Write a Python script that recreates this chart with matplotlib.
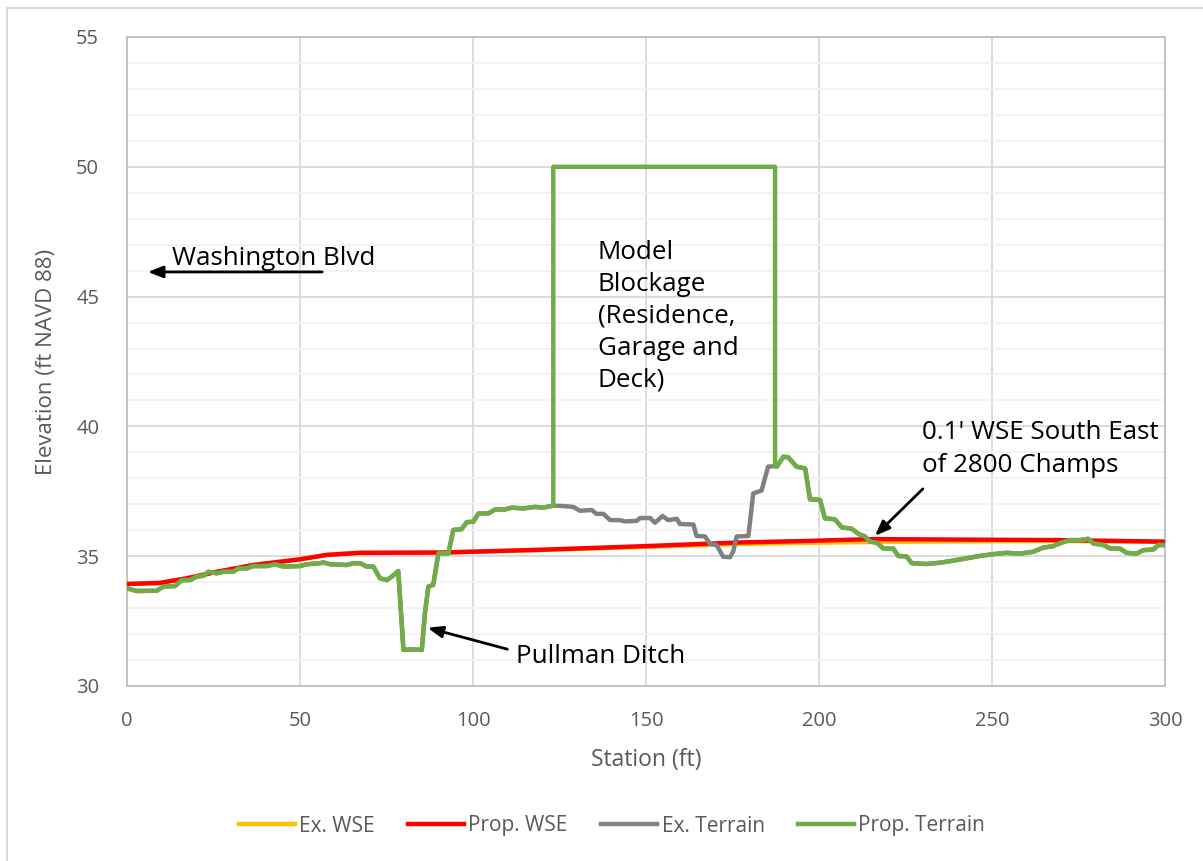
import matplotlib.pyplot as plt
from matplotlib.patches import Rectangle

plt.rcParams['font.family'] = ['Open Sans', 'DejaVu Sans']

# terrain shared by both profiles, west of the blockage
left_sta = [0, 2.8, 8.6, 10.5, 13.9, 15.8, 18.2, 20.1, 22.1, 23.5, 25.9, 27.8, 30.7, 32.2,
            34.6, 36.5, 40.4, 42.8, 45.2, 50, 51.9, 55.8, 56.7, 58.7, 63.5, 65.4, 67.3,
            69.3, 71.2, 73.1, 75.1, 76.5, 78.4, 79.9, 82.7, 85.2, 86.1, 87.1, 88.5, 90.0,
            92.9, 94.3, 96.7, 98.2, 100.1, 101.6, 104.5, 106.4, 109.2, 111.2, 114.5,
            117.9, 120.3, 123.2]
left_elev = [33.76, 33.66, 33.67, 33.83, 33.85, 34.08, 34.08, 34.21, 34.25, 34.40, 34.34,
             34.40, 34.40, 34.53, 34.53, 34.62, 34.62, 34.69, 34.60, 34.62, 34.69, 34.73,
             34.76, 34.69, 34.66, 34.73, 34.73, 34.60, 34.60, 34.15, 34.08, 34.21, 34.43,
             31.39, 31.41, 31.39, 32.80, 33.83, 33.89, 35.11, 35.11, 36.01, 36.04, 36.31,
             36.33, 36.65, 36.65, 36.80, 36.80, 36.87, 36.84, 36.90, 36.87, 36.95]

# existing terrain under the residence / garage / deck
mid_sta = [126.1, 129.0, 130.9, 134.3, 135.7, 137.7, 139.6, 142.5, 143.9, 147.3, 148.3,
           151.2, 152.6, 154.8, 156.4, 158.9, 159.8, 163.7, 164.6, 167.1, 168.5, 170.4,
           172.3, 174.3, 175.2, 176.2, 179.6, 181.0, 183.4, 185.3, 187.3]
mid_elev = [36.93, 36.90, 36.75, 36.78, 36.63, 36.63, 36.39, 36.39, 36.34, 36.36, 36.47,
            36.47, 36.29, 36.55, 36.39, 36.44, 36.24, 36.22, 35.78, 35.76, 35.47, 35.43,
            34.98, 34.96, 35.18, 35.76, 35.78, 37.42, 37.53, 38.45, 38.47]

# shared terrain east of the blockage
right_sta = [187.8, 189.7, 191.1, 193.5, 196.0, 197.4, 200.3, 201.7, 204.6, 206.6, 209.4,
             211.4, 213.3, 214.7, 216.7, 218.6, 221.5, 222.9, 225.3, 226.8, 231.1, 235.0,
             238.8, 242.7, 246.5, 250.4, 254.2, 258.1, 261.9, 264.8, 267.7, 270.1, 272.5,
             275.4, 277.8, 279.3, 282.2, 284.1, 287.0, 288.9, 291.8, 293.7, 296.6, 298.1, 300]
right_elev = [38.45, 38.83, 38.81, 38.45, 38.38, 37.19, 37.17, 36.46, 36.42, 36.11, 36.06,
              35.86, 35.76, 35.56, 35.52, 35.30, 35.29, 35.01, 34.99, 34.73, 34.70, 34.75,
              34.83, 34.92, 35.01, 35.08, 35.13, 35.10, 35.17, 35.33, 35.39, 35.52, 35.62,
              35.62, 35.67, 35.49, 35.43, 35.30, 35.29, 35.13, 35.10, 35.23, 35.26, 35.43, 35.43]

blockage_sta = [123.2, 187.3]
blockage_elev = 50.0

ex_terrain_sta = left_sta + mid_sta + right_sta
ex_terrain_elev = left_elev + mid_elev + right_elev
prop_terrain_sta = left_sta + [blockage_sta[0], blockage_sta[1], blockage_sta[1]] + right_sta
prop_terrain_elev = left_elev + [blockage_elev, blockage_elev, 38.47] + right_elev

wse_sta = [0, 9.5, 17.3, 26, 36.5, 50, 57.7, 67.3, 90.5, 102, 120, 150.2, 177.2, 194.5,
           215.7, 240, 270, 300]
prop_wse = [33.93, 33.97, 34.15, 34.40, 34.66, 34.88, 35.05, 35.13, 35.14, 35.18, 35.25,
            35.39, 35.53, 35.58, 35.66, 35.64, 35.62, 35.56]
ex_wse = [33.93, 33.97, 34.15, 34.40, 34.66, 34.88, 35.05, 35.13, 35.14, 35.18, 35.24,
          35.36, 35.47, 35.51, 35.55, 35.57, 35.59, 35.55]

fig = plt.figure(figsize=(12.03, 8.61), dpi=100)
fig.add_artist(Rectangle((7 / 1203, -0.1), 1.2, 1 - 8 / 861 + 0.1, transform=fig.transFigure,
                         fill=False, edgecolor='#D9D9D9', lw=1.5))
ax = fig.add_axes([127 / 1203, 1 - 686 / 861, (1165 - 127) / 1203, (686 - 37) / 861])

lw = 3.2
ax.plot(wse_sta, ex_wse, color='#FFC000', lw=lw, label='Ex. WSE', zorder=3)
ax.plot(wse_sta, prop_wse, color='#FF0000', lw=lw, label='Prop. WSE', zorder=4)
ax.plot(ex_terrain_sta, ex_terrain_elev, color='#808080', lw=lw, label='Ex. Terrain', zorder=5)
ax.plot(prop_terrain_sta, prop_terrain_elev, color='#70AD47', lw=lw, label='Prop. Terrain', zorder=6)

ax.set_xlim(0, 300)
ax.set_ylim(30, 55)
ax.set_xticks(range(0, 301, 50))
ax.set_yticks(range(30, 56, 5))
ax.set_yticks(range(30, 56, 1), minor=True)
ax.grid(axis='x', which='major', color='#D9D9D9', lw=1.3)
ax.grid(axis='y', which='major', color='#D9D9D9', lw=1.3)
ax.grid(axis='y', which='minor', color='#F2F2F2', lw=1.3)
ax.set_axisbelow(True)
for s in ax.spines.values():
    s.set_color('#BFBFBF')
    s.set_linewidth(1.3)
ax.tick_params(which='both', length=0, labelsize=14.5, labelcolor='#595959')
ax.tick_params(axis='y', pad=20)
ax.tick_params(axis='x', pad=18)

ax.set_xlabel('Station (ft)', fontsize=16.5, color='#595959', labelpad=12)
ax.set_ylabel('Elevation (ft NAVD 88)', fontsize=16, color='#595959', labelpad=14)

afs = 18.7
arrow = dict(arrowstyle='-|>,head_length=0.9,head_width=0.35', color='black', lw=2)
ax.annotate('', xy=(5.2, 45.95), xytext=(57.2, 45.95), arrowprops=arrow)
ax.text(13.0, 46.45, 'Washington Blvd', fontsize=afs, va='center', ha='left')
ax.text(136.1, 44.25, 'Model\nBlockage\n(Residence,\nGarage and\nDeck)', fontsize=afs,
        va='center', ha='left', linespacing=35.5 / (afs * 100 / 72))
ax.annotate('', xy=(215.6, 35.71), xytext=(230.6, 37.67), arrowprops=arrow)
ax.text(229.8, 39.13, "0.1' WSE South East\nof 2800 Champs", fontsize=afs, va='center',
        ha='left', linespacing=36 / (afs * 100 / 72))
ax.annotate('', xy=(86.1, 32.27), xytext=(110.7, 31.39), arrowprops=arrow)
ax.text(112.4, 31.12, 'Pullman Ditch', fontsize=afs, va='center', ha='left')

fig.legend(loc='center', bbox_to_anchor=(612 / 1203, 1 - 826 / 861), ncol=4, frameon=False,
           fontsize=15, handlelength=2.7, handletextpad=0.2, columnspacing=1.6,
           labelcolor='#595959')

fig.savefig('out.png', dpi=100)
